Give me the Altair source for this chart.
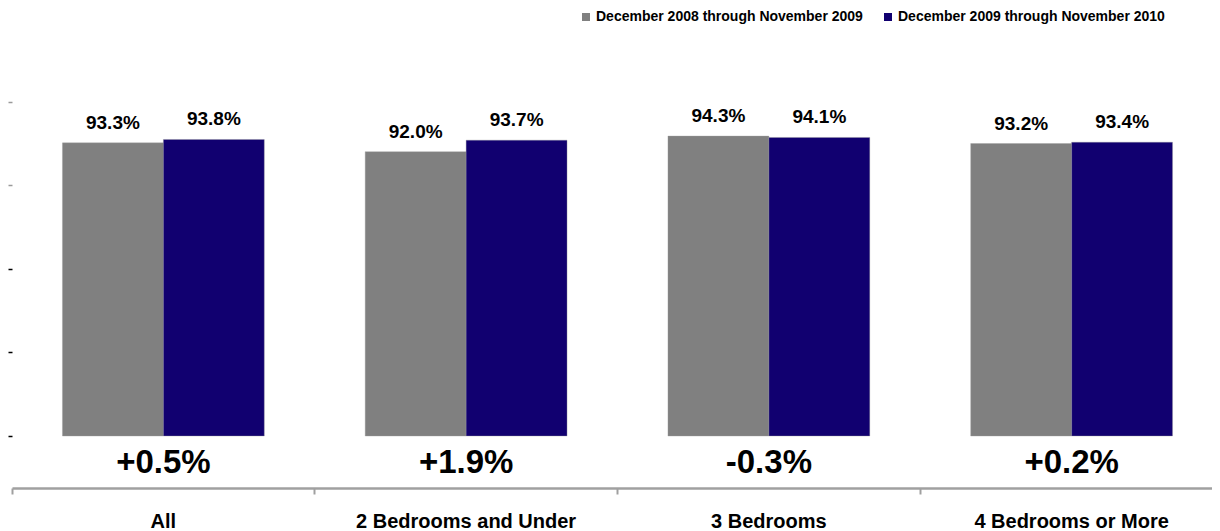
import altair as alt
import pandas as pd

categories = ["All", "2 Bedrooms and Under", "3 Bedrooms", "4 Bedrooms or More"]
series = ["December 2008 through November 2009", "December 2009 through November 2010"]
prev_vals = [93.3, 92.0, 94.3, 93.2]
curr_vals = [93.8, 93.7, 94.1, 93.4]
changes = ["+0.5%", "+1.9%", "-0.3%", "+0.2%"]
y_ticks = [50, 62.4, 74.7, 87.1, 99.3]
colors = ["#808080", "#110070"]

rows = []
for c, p, n in zip(categories, prev_vals, curr_vals):
    rows.append({"cat": c, "series": series[0], "val": p, "label": f"{p:.1f}%"})
    rows.append({"cat": c, "series": series[1], "val": n, "label": f"{n:.1f}%"})
df = pd.DataFrame(rows)
chg = pd.DataFrame({"cat": categories, "chg": changes})

FONT = "Liberation Sans"

xscale = alt.Scale(domain=categories, range=[0, 1211], paddingInner=0, paddingOuter=0)
yscale = alt.Scale(domain=[42.319, 99.335], nice=False, zero=False)
xoff = alt.XOffset("series:N", sort=series,
                   scale=alt.Scale(domain=series, paddingInner=0, paddingOuter=0.5))

x_enc = alt.X("cat:N", sort=categories, scale=xscale,
              axis=alt.Axis(title=None, labelAngle=0, bandPosition=0, ticks=True,
                            tickSize=6, tickColor="#a0a0a0", tickWidth=2,
                            domainColor="#a0a0a0", domainWidth=2.5,
                            labelFont=FONT, labelFontSize=20, labelFontWeight="bold",
                            labelColor="#000", labelPadding=33,
                            labelBaseline="alphabetic", labelLimit=500))

tick_color = {"condition": {"test": "datum.value > 80", "value": "#9a9a9a"}, "value": "#000"}

bars = alt.Chart(df).mark_bar(stroke="#9a9a9a", strokeWidth=0.6, strokeOpacity=0.6).encode(
    x=x_enc,
    xOffset=xoff,
    y=alt.Y("val:Q", scale=yscale,
            axis=alt.Axis(title=None, values=y_ticks, labels=False,
                          domain=False, grid=False, ticks=True, tickSize=4,
                          tickColor=tick_color, tickWidth=1.5)),
    y2=alt.datum(50),
    color=alt.Color("series:N", sort=series,
                    scale=alt.Scale(domain=series, range=colors),
                    legend=alt.Legend(title=None, orient="none", direction="horizontal",
                                      legendX=567, legendY=-92, symbolType="square",
                                      symbolSize=64, symbolStrokeWidth=0,
                                      labelFont=FONT, labelFontSize=14,
                                      labelFontWeight="bold", labelColor="#000",
                                      labelOffset=3, columnPadding=18,
                                      labelLimit=400)),
)

vals = alt.Chart(df).mark_text(font=FONT, fontSize=19, fontWeight="bold",
                               color="#000", baseline="alphabetic", dy=-14).encode(
    x=alt.X("cat:N", sort=categories, scale=xscale),
    xOffset=xoff,
    y=alt.Y("val:Q", scale=yscale),
    text="label:N",
)

chgtext = alt.Chart(chg).mark_text(font=FONT, fontSize=33, fontWeight="bold",
                                   color="#000", baseline="alphabetic", dy=37).encode(
    x=alt.X("cat:N", sort=categories, scale=xscale, bandPosition=0.5),
    y=alt.datum(50),
    text="chg:N",
)

chart = alt.layer(bars, vals, chgtext).properties(
    width=1200, height=386,
    autosize=alt.AutoSizeParams(type="none"),
    padding={"left": 4, "top": 94, "right": 0, "bottom": 50},
).configure_view(stroke=None)

chart.save("out.html", embed_options={"renderer": "svg", "actions": False})
